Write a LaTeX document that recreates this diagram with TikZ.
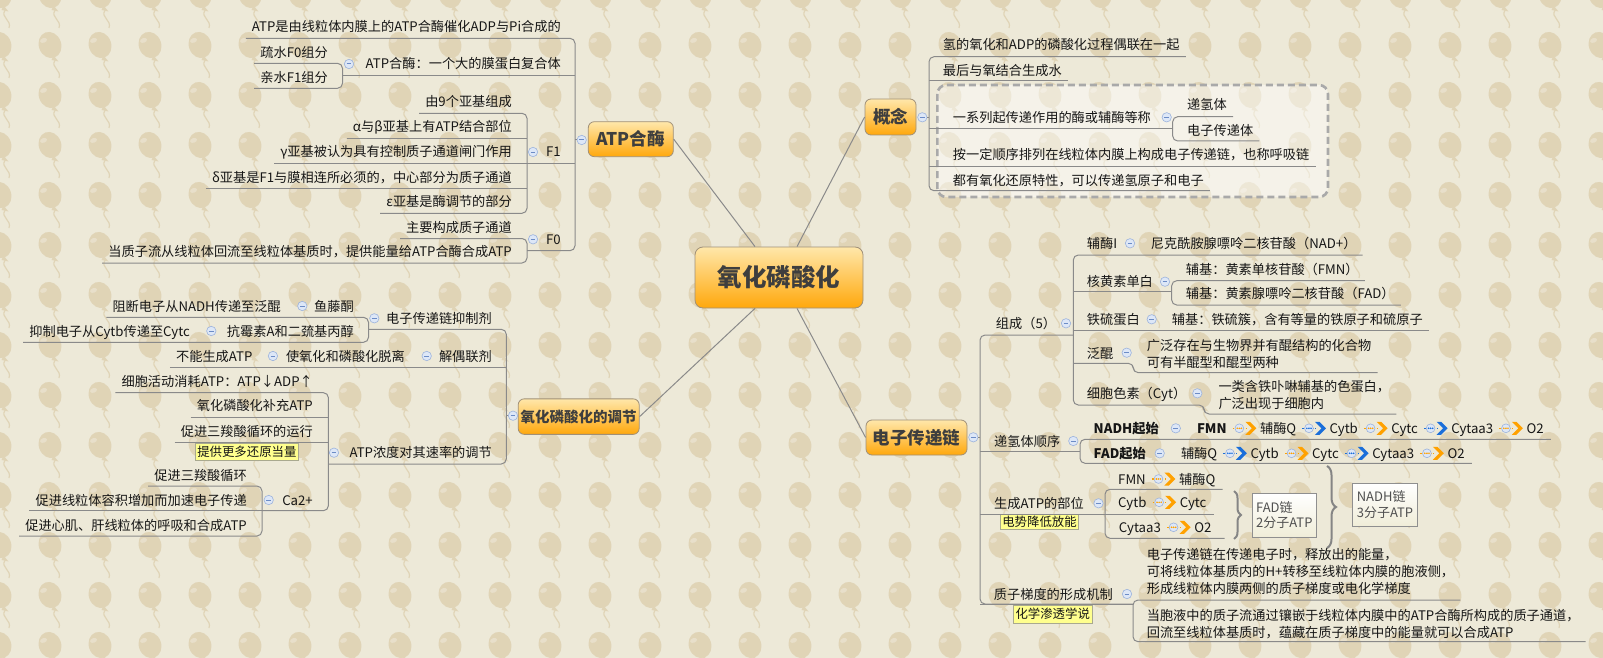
\documentclass[tikz,border=0pt]{standalone}
\usepackage{fontspec}
\setmainfont{Noto Sans CJK SC}
\usetikzlibrary{decorations.pathreplacing}
\definecolor{bg}{HTML}{EDE9D8}
\definecolor{bal}{HTML}{E0D4B6}
\definecolor{lnc}{HTML}{8A8A8A}
\definecolor{txc}{HTML}{161616}
\definecolor{ttl}{HTML}{3E3E3E}
\definecolor{boxtop}{HTML}{FFE7AA}
\definecolor{boxbot}{HTML}{FFA80C}
\definecolor{boxbd}{HTML}{A09078}
\definecolor{mkf}{HTML}{DDE7F7}
\definecolor{mkd}{HTML}{9CB3DC}
\definecolor{mkm}{HTML}{6C8CC6}
\definecolor{arrO}{HTML}{FFA100}
\definecolor{arrB}{HTML}{1B6FDA}
\definecolor{labf}{HTML}{FFFF8E}
\definecolor{labd}{HTML}{A9A98F}
\definecolor{dsh}{HTML}{A9A9A9}
\definecolor{infd}{HTML}{8F8F8F}
\definecolor{infb}{HTML}{F0EDD8}
\definecolor{inft}{HTML}{505050}
\definecolor{brc}{HTML}{858585}
\tikzset{
 txt/.style={font=\fontsize{13.2}{17}\selectfont, text=txc, inner xsep=6, inner ysep=0},
 lt/.style={txt, anchor=base east},
 rt/.style={txt, anchor=base west},
 rtb/.style={rt, font=\bfseries\fontsize{13.2}{17}\selectfont},
 ch/.style={font=\fontsize{13.2}{17}\selectfont, text=txc, inner sep=0, anchor=base west},
 ln/.style={draw=lnc, line width=1},
 br/.style={ln, rounded corners=5},
 ctr/.style={draw=lnc, line width=1},
 topic/.style={draw=boxbd, line width=0.8, rounded corners=6, top color=boxtop, bottom color=boxbot, font=\bfseries\fontsize{17.5}{20}\selectfont, text=ttl, inner sep=0, minimum height=35},
 mk/.style={circle, draw=mkd, fill=mkf, line width=0.6, minimum size=9.4, inner sep=0, path picture={\draw[mkm, line width=1] ([xshift=-2.4]path picture bounding box.center) -- ([xshift=2.4]path picture bounding box.center);}},
 lab/.style={draw=labd, fill=labf, line width=0.6, font=\fontsize{12.4}{14}\selectfont, text=txc, inner xsep=2, inner ysep=0, minimum height=17},
 infob/.style={draw=infd, line width=0.7, top color=white, bottom color=infb, align=left, font=\fontsize{13}{15.5}\selectfont, text=inft, inner sep=3},
 dbox/.style={draw=dsh, line width=2.6, dash pattern=on 7 off 4, rounded corners=9, fill=white, fill opacity=0.45},
 curly/.style={draw=brc, line width=2, decorate, decoration={brace, amplitude=#1}},
 pics/chainarr/.style={code={
   \draw[#1, line width=1.4, dash pattern=on 1.6 off 1.6] (-0.5,0) -- (13,0);
   \draw[draw=mkd, fill=mkf, line width=0.6] (6,0) circle (4.4);
   \fill[#1] (3.9,0) circle (0.9) (6,0) circle (0.9) (8.1,0) circle (0.9);
   \fill[#1] (12,-6.5) -- (16.5,-6.5) -- (23,0) -- (16.5,6.5) -- (12,6.5) -- (18.5,0) -- cycle;
 }},
}
\newcommand\chainnext[4]{%
  \pic at ([xshift=6.5,yshift=5]#1.base east) {chainarr=#3};
  \node[ch] (#2) at ([xshift=33]#1.base east) {#4};}
\begin{document}
\begin{tikzpicture}[x=1pt,y=-1pt]
\useasboundingbox (0,0) rectangle (1603,658);
\fill[bg] (0,0) rectangle (1603,658);
% background balloons
\begin{scope}
\clip (0,0) rectangle (1603,658);
\foreach \i in {0,...,32}{\foreach \j in {-1,...,13}{
  \begin{scope}[shift={({50*\i},{45+50*\j})}]
  \fill[bal,rotate=20] (0,0) ellipse (11.2 and 13.3);
  \fill[bal] (3.5,10.5) -- (8.5,16.5) -- (1.5,15) -- cycle;
  \draw[bal,line width=1.2] (5,15.5) .. controls (0,22) and (12,25) .. (9,33);
  \fill[white,opacity=.28,rotate=20] (-4.5,-6.5) ellipse (3.6 and 2.3);
  \end{scope}}}
\end{scope}
% dashed group box
\path[dbox] (937.3,85) rectangle (1328,197);

% ===== topic boxes
\node[topic, minimum width=168, minimum height=61, rounded corners=8, font=\bfseries\fontsize{24.5}{28}\selectfont] (center) at (779,277.5) {氧化磷酸化};
\node[topic, minimum width=85] (atpbox) at (630.8,139.2) {ATP合酶};
\node[topic, minimum width=121, minimum height=35.5, font=\bfseries\fontsize{14.5}{17}\selectfont] (tjbox) at (578.7,416.6) {氧化磷酸化的调节};
\node[topic, minimum width=51, minimum height=36] (gnbox) at (890.5,117) {概念};
\node[topic, minimum width=101] (dzbox) at (916.5,437.5) {电子传递链};
\draw[ctr] ([xshift=-24]center.north) -- (atpbox.east);
\draw[ctr] ([xshift=18]center.north) -- (gnbox.west);
\draw[ctr] ([xshift=-24]center.south) -- (tjbox.east);
\draw[ctr] ([xshift=18]center.south) -- (dzbox.west);

% ===== ATP synthase branch
\node[lt] (a1) at (567,31.7) {ATP是由线粒体内膜上的ATP合酶催化ADP与Pi合成的};
\node[lt] (a2) at (567,69) {ATP合酶：一个大的膜蛋白复合体};
\node[lt] (a21) at (334,57.7) {疏水F0组分};
\node[lt] (a22) at (334,82.3) {亲水F1组分};
\node[lt] (f1) at (567,157) {F1};
\node[lt] (f1a) at (518,106.7) {由9个亚基组成};
\node[lt] (f1b) at (518,131.7) {α与β亚基上有ATP结合部位};
\node[lt] (f1c) at (518,156.7) {γ亚基被认为具有控制质子通道闸门作用};
\node[lt] (f1d) at (518,182.3) {δ亚基是F1与膜相连所必须的，中心部分为质子通道};
\node[lt] (f1e) at (518,206.7) {ε亚基是酶调节的部分};
\node[lt] (f0) at (567,244.3) {F0};
\node[lt] (f0a) at (518,232.7) {主要构成质子通道};
\node[lt] (f0b) at (518,256.5) {当质子流从线粒体回流至线粒体基质时，提供能量给ATP合酶合成ATP};
\draw[br] (a1.west |- 0,38.3) -- (575,38.3) -- (575,250.7) -- (527,250.7);
\draw[ln] (342.5,76) -- (575,76);
\draw[ln] (527,163) -- (575,163);
\draw[br] (a21.west |- 0,63.3) -- (342.5,63.3) -- (342.5,88.3) -- (a22.west |- 0,88.3);
\draw[br] (f1a.west |- 0,113.3) -- (527,113.3) -- (527,213.3) -- (f1e.west |- 0,213.3);
\draw[ln] (f1b.west |- 0,138.3) -- (527,138.3);
\draw[ln] (f1c.west |- 0,163.3) -- (527,163.3);
\draw[ln] (f1d.west |- 0,188.3) -- (527,188.3);
\draw[br] (f0a.west |- 0,238.5) -- (527,238.5) -- (527,263) -- (f0b.west |- 0,263);
\node[mk] (matp) at (581.7,140) {};
\draw[ln] (matp) -- (575,140);
\node[mk] (ma2) at (349,64) {};
\node[mk] (mf1) at (533,152) {};
\node[mk] (mf0) at (533,239.3) {};

% ===== regulation branch
\node[lt] (r1) at (498,323.3) {电子传递链抑制剂};
\node[lt] (r1a) at (360,311) {鱼藤酮};
\node[lt] (r1a1) at (287,311) {阻断电子从NADH传递至泛醌};
\node[lt] (r1b) at (360,336) {抗霉素A和二巯基丙醇};
\node[lt] (r1b1) at (196,336) {抑制电子从Cytb传递至Cytc};
\node[lt] (r2) at (498,361) {解偶联剂};
\node[lt] (r2a) at (411,361) {使氧化和磷酸化脱离};
\node[lt] (r2a1) at (258.6,361) {不能生成ATP};
\node[lt] (r3) at (498,457.7) {ATP浓度对其速率的调节};
\node[lt] (r3a) at (319,386) {细胞活动消耗ATP：ATP↓ADP↑};
\node[lt] (r3b) at (319,410.7) {氧化磷酸化补充ATP};
\node[lt] (r3c) at (319,436) {促进三羧酸循环的运行};
\node[lab, minimum width=101] (r3cl) at (246.85,451.85) {提供更多还原当量};
\node[lt] (r4) at (319,505) {Ca2+};
\node[lt] (c1) at (253,480) {促进三羧酸循环};
\node[lt] (c2) at (253,505) {促进线粒体容积增加而加速电子传递};
\node[lt] (c3) at (253,530) {促进心肌、肝线粒体的呼吸和合成ATP};
\draw[br] (r1a1.west |- 0,317.3) -- (368.5,317.3) -- (368.5,342.3) -- (r1b1.west |- 0,342.3);
\draw[br] (368.5,329.3) -- (506.3,329.3) -- (506.3,464) -- (328.4,464);
\draw[ln] (r2a1.west |- 0,367.3) -- (506.3,367.3);
\draw[br] (r3a.west |- 0,392.7) -- (328.4,392.7) -- (328.4,510.7) -- (262,510.7);
\draw[ln] (r3b.west |- 0,417.3) -- (328.4,417.3);
\draw[ln] (r3c.west |- 0,442.7) -- (328.4,442.7);
\draw[br] (c1.west |- 0,486) -- (262,486) -- (262,536) -- (c3.west |- 0,536);
\draw[ln] (c2.west |- 0,510.7) -- (262,510.7);
\node[mk] (mtj) at (513,415.7) {};
\draw[ln] (mtj) -- (506.3,415.7);
\node[mk] (mr1) at (374.3,318.3) {};
\node[mk] (mr1a) at (302.3,306) {};
\node[mk] (mr1b) at (211.3,331) {};
\node[mk] (mr2) at (426.7,356) {};
\node[mk] (mr2a) at (272.9,356) {};
\node[mk] (mr3) at (334,452.7) {};
\node[mk] (mr4) at (268.7,500) {};

% ===== concept branch
\node[rt] (k1) at (936.7,50) {氢的氧化和ADP的磷酸化过程偶联在一起};
\node[rt] (k2) at (936.7,75.7) {最后与氧结合生成水};
\node[rt] (k3) at (946.7,122.3) {一系列起传递作用的酶或辅酶等称};
\node[rt] (k3a) at (1181,110) {递氢体};
\node[rt] (k3b) at (1181,135.7) {电子传递体};
\node[rt] (k4) at (946.7,160) {按一定顺序排列在线粒体内膜上构成电子传递链，也称呼吸链};
\node[rt] (k5) at (946.7,185) {都有氧化还原特性，可以传递氢原子和电子};
\draw[br] (k1.east |- 0,56.7) -- (929,56.7) -- (929,190.7) -- (k5.east |- 0,190.7);
\draw[ln] (929,81) -- (k2.east |- 0,81);
\draw[ln] (929,128.3) -- (1172.7,128.3);
\draw[ln] (929,166) -- (k4.east |- 0,166);
\draw[br] (k3a.east |- 0,116.7) -- (1172.7,116.7) -- (1172.7,141) -- (k3b.east |- 0,141);
\node[mk] (mgn) at (922.3,117.3) {};
\draw[ln] (mgn) -- (929,117.3);
\node[mk] (mk3) at (1166.7,117.3) {};

% ===== electron transport chain branch
\node[rt] (e1) at (989.7,328.3) {组成（5）};
\node[rt] (e1a) at (1080.7,248.3) {辅酶I};
\node[rt] (e1a1) at (1144.7,248.3) {尼克酰胺腺嘌呤二核苷酸（NAD+）};
\node[rt] (e1b) at (1080.7,286.7) {核黄素单白};
\node[rt] (e1b1) at (1179.7,274.3) {辅基：黄素单核苷酸（FMN）};
\node[rt] (e1b2) at (1179.7,298.3) {辅基：黄素腺嘌呤二核苷酸（FAD）};
\node[rt] (e1c) at (1080.7,324.3) {铁硫蛋白};
\node[rt] (e1c1) at (1165.7,324.3) {辅基：铁硫簇，含有等量的铁原子和硫原子};
\node[rt] (e1d) at (1080.7,358.3) {泛醌};
\node[rt] (e1d1) at (1140.7,350) {\begin{tabular}[t]{@{}l@{}}广泛存在与生物界并有醌结构的化合物\\可有半醌型和醌型两种\end{tabular}};
\node[rt] (e1e) at (1080.7,398.3) {细胞色素（Cyt）};
\node[rt] (e1e1) at (1212.3,391.7) {\begin{tabular}[t]{@{}l@{}}一类含铁卟啉辅基的色蛋白，\\广泛出现于细胞内\end{tabular}};
\draw[br] (e1a1.east |- 0,255) -- (1073.3,255) -- (1073.3,405) -- (1204,405) -- (1204,414) -- (e1e1.east |- 0,414);
\draw[ln] (1073.3,291.7) -- (1171.7,291.7);
\draw[br] (e1b1.east |- 0,280.7) -- (1171.7,280.7) -- (1171.7,305) -- (e1b2.east |- 0,305);
\draw[ln] (1073.3,330) -- (e1c1.east |- 0,330);
\draw[br] (1073.3,363.3) -- (1133.3,363.3) -- (1133.3,372.7) -- (e1d1.east |- 0,372.7);

\node[rt] (e2) at (988,446) {递氢体顺序};
\node[rtb] (e2a) at (1087.5,433.3) {NADH起始};
\node[rtb] (e2b) at (1087.5,458.3) {FAD起始};
\node[ch, font=\bfseries\fontsize{13.2}{17}\selectfont] (na1) at (1196.8,433.3) {FMN};
\chainnext{na1}{na2}{arrO}{辅酶Q}
\chainnext{na2}{na3}{arrB}{Cytb}
\chainnext{na3}{na4}{arrO}{Cytc}
\chainnext{na4}{na5}{arrB}{Cytaa3}
\chainnext{na5}{na6}{arrO}{O2}
\coordinate (naend) at ([xshift=7]na6.east);
\node[ch] (fa1) at (1180.8,458.3) {辅酶Q};
\chainnext{fa1}{fa2}{arrB}{Cytb}
\chainnext{fa2}{fa3}{arrO}{Cytc}
\chainnext{fa3}{fa4}{arrB}{Cytaa3}
\chainnext{fa4}{fa5}{arrO}{O2}
\coordinate (faend) at ([xshift=7]fa5.east);
\draw[br] (naend |- 0,439.3) -- (1080,439.3) -- (1080,463.3) -- (faend |- 0,463.3);
\draw[ln] (980,451.7) -- (1080,451.7);

\node[rt] (e3) at (988,508.3) {生成ATP的部位};
\node[lab, minimum width=75, minimum height=15.6] (e3l) at (1039.5,521.8) {电势降低放能};
\node[ch] (sa1) at (1118,484) {FMN};
\chainnext{sa1}{sa2}{arrO}{辅酶Q}
\node[ch] (sb1) at (1118,507.3) {Cytb};
\chainnext{sb1}{sb2}{arrO}{Cytc}
\node[ch] (sc1) at (1118.7,532.3) {Cytaa3};
\chainnext{sc1}{sc2}{arrO}{O2}
\coordinate (saend) at ([xshift=7]sa2.east);
\coordinate (sbend) at ([xshift=7]sb2.east);
\coordinate (scend) at ([xshift=13]sc2.east);
\draw[br] (saend |- 0,489.3) -- (1105,489.3) -- (1105,538.3) -- (scend |- 0,538.3);
\draw[ln] (980,514) -- (sbend |- 0,514);
\draw[curly=7] (1234,491) -- (1234,539);
\draw[curly=9] (1327,466) -- (1327,548);
\node[infob, minimum width=63.5, minimum height=43.5] (fadb) at (1284.3,515.3) {FAD链\\2分子ATP};
\node[infob, minimum width=64.6, minimum height=42.7] (nadhb) at (1385,504.7) {NADH链\\3分子ATP};

\node[rt] (e4) at (987.7,599) {质子梯度的形成机制};
\node[lab, minimum width=73.7, minimum height=18.3] (e4l) at (1052.7,614.2) {化学渗透学说};
\node[rt] (e4a) at (1140.6,559.3) {\begin{tabular}[t]{@{}l@{}}电子传递链在传递电子时，释放出的能量，\\可将线粒体基质内的H+转移至线粒体内膜的胞液侧，\\形成线粒体内膜两侧的质子梯度或电化学梯度\end{tabular}};
\node[rt] (e4b) at (1140.6,620.7) {\begin{tabular}[t]{@{}l@{}}当胞液中的质子流通过镶嵌于线粒体内膜中的ATP合酶所构成的质子通道，\\回流至线粒体基质时，蕴藏在质子梯度中的能量就可以合成ATP\end{tabular}};
\draw[br] (e4a.east |- 0,600) -- (1133,600) -- (1133,641.7) -- (e4b.east |- 0,641.7);
\draw[ln] (980,604) -- (1133,604);

\draw[br] (1073.3,335) -- (980,335) -- (980,604) -- (1133,604);
\node[mk] (mdz) at (973.3,437.3) {};
\draw[ln] (mdz) -- (980,437.3);
\node[mk] (me1) at (1066,323.3) {};
\node[mk] (me1a) at (1130,243.3) {};
\node[mk] (me1b) at (1165,281.7) {};
\node[mk] (me1c) at (1151.7,319.3) {};
\node[mk] (me1d) at (1126.7,352.7) {};
\node[mk] (me1e) at (1197.3,393.3) {};
\node[mk] (me2) at (1073.3,441) {};
\node[mk] (me2a) at (1175.8,428.3) {};
\node[mk] (me2b) at (1159.7,453.3) {};
\node[mk] (me3) at (1098.5,503.3) {};
\node[mk] (me4) at (1127,594) {};
\end{tikzpicture}
\end{document}
